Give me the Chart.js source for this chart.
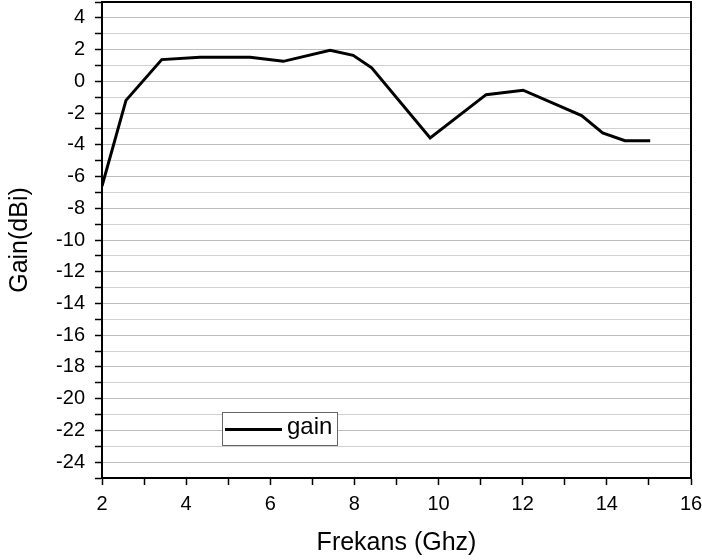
<!DOCTYPE html>
<html>
<head>
<meta charset="utf-8">
<script src="https://cdn.jsdelivr.net/npm/chart.js@4"></script>
<style>
  body { margin: 0; background: #fff; }
  #wrap { width: 702px; height: 560px; position: relative; }
</style>
</head>
<body>
<div id="wrap"><canvas id="gainChart"></canvas></div>
<script>
// frekans (GHz) ve kazanc (dBi) degerleri
var freq = [2, 2.57, 3.42, 4.33, 5.52, 6.31, 7.42, 7.97, 8.41, 9.80, 11.13, 12.01, 13.40, 13.90, 14.43, 15.03];
var gain = [-6.6, -1.2, 1.37, 1.52, 1.52, 1.26, 1.96, 1.64, 0.85, -3.57, -0.84, -0.56, -2.16, -3.25, -3.74, -3.74];
var seriesName = 'gain';
var xTitle = 'Frekans (Ghz)';
var yTitle = 'Gain(dBi)';

var FONT = '"Liberation Sans", Arial, sans-serif';

// cerceve (ust ve sag kenar dahil)
var frame = {
    id: 'frame',
    afterDraw: function(chart) {
        var a = chart.chartArea, c = chart.ctx;
        c.save();
        c.strokeStyle = '#000';
        c.lineWidth = 2;
        c.strokeRect(a.left, a.top, a.right - a.left, a.bottom - a.top);
        c.restore();
    }
};

// grafik icindeki lejant kutusu
var boxLegend = {
    id: 'boxLegend',
    afterDraw: function(chart) {
        var a = chart.chartArea, c = chart.ctx;
        var x = a.left + 120, y = a.top + 410, w = 115, h = 33;
        c.save();
        c.fillStyle = '#fff';
        c.fillRect(x, y, w, h);
        c.strokeStyle = '#666';
        c.lineWidth = 1;
        c.strokeRect(x + 0.5, y + 0.5, w, h);
        c.strokeStyle = '#000';
        c.lineWidth = 3;
        c.beginPath();
        c.moveTo(x + 3, y + h / 2 + 1);
        c.lineTo(x + 60, y + h / 2 + 1);
        c.stroke();
        c.fillStyle = '#000';
        c.font = '24px ' + FONT;
        c.textBaseline = 'middle';
        c.fillText(chart.data.datasets[0].label, x + 65, y + h / 2 - 1);
        c.restore();
    }
};

var ctx = document.getElementById('gainChart').getContext('2d');
var chart = new Chart(ctx, {
    type: 'line',
    data: {
        datasets: [{
            label: seriesName,
            data: freq.map(function(f, i) { return { x: f, y: gain[i] }; }),
            borderColor: '#000',
            borderWidth: 3,
            pointRadius: 0,
            tension: 0,
            fill: false
        }]
    },
    options: {
        responsive: true,
        maintainAspectRatio: false,
        animation: false,
        layout: { padding: { top: 2, right: 11, left: 0, bottom: 0 } },
        plugins: {
            legend: { display: false },
            tooltip: { enabled: false }
        },
        scales: {
            x: {
                type: 'linear',
                min: 2,
                max: 16,
                afterFit: function(s) {
                    s.height = 82;
                    s.paddingLeft = 0;
                    s.paddingRight = 0;
                },
                ticks: {
                    stepSize: 1,
                    autoSkip: false,
                    maxRotation: 0,
                    padding: 7,
                    color: '#000',
                    font: { family: FONT, size: 20 },
                    callback: function(v) { return v % 2 === 0 ? v : ''; }
                },
                grid: {
                    drawOnChartArea: false,
                    drawTicks: true,
                    tickLength: 7,
                    tickColor: '#000',
                    tickWidth: 1.5
                },
                border: { color: '#000', width: 2 },
                title: {
                    display: true,
                    text: xTitle,
                    color: '#000',
                    font: { family: FONT, size: 25 },
                    padding: { top: 0, bottom: 2 }
                }
            },
            y: {
                min: -25,
                max: 5,
                afterFit: function(s) {
                    s.width = 102;
                    s.paddingTop = 0;
                    s.paddingBottom = 0;
                },
                ticks: {
                    stepSize: 1,
                    autoSkip: false,
                    padding: 10,
                    color: '#000',
                    font: { family: FONT, size: 20 },
                    callback: function(v) { return v % 2 === 0 ? v : ''; }
                },
                grid: {
                    drawTicks: true,
                    tickLength: 7,
                    tickColor: '#000',
                    tickWidth: 1.5,
                    lineWidth: 1,
                    color: function(c) {
                        var v = c.tick ? c.tick.value : 0;
                        return Math.abs(v % 2) === 1 ? '#d0d0d0' : '#bdbdbd';
                    },
                    dash: function(c) {
                        var v = c.tick ? c.tick.value : 0;
                        return Math.abs(v % 2) === 1 ? [2, 2] : [];
                    }
                },
                border: { color: '#000', width: 2 },
                title: {
                    display: true,
                    text: yTitle,
                    color: '#000',
                    font: { family: FONT, size: 25 },
                    padding: { top: 5, bottom: 0 }
                }
            }
        }
    },
    plugins: [frame, boxLegend]
});
</script>
</body>
</html>
